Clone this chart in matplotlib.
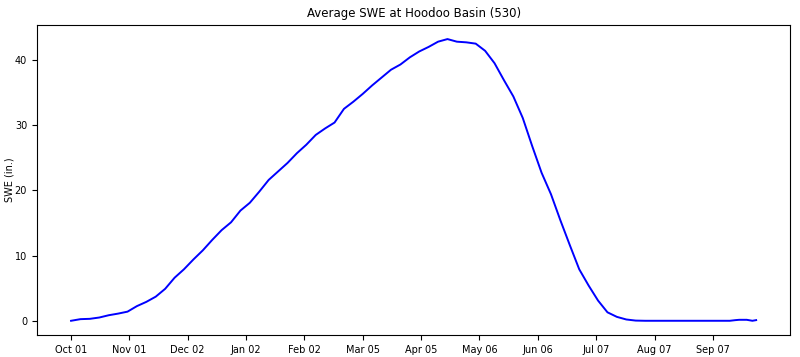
#!/usr/bin/env python3

import matplotlib
matplotlib.use("Agg")
import matplotlib.pyplot as plt
import numpy as np

# day of water year (0 = Oct 01) and average SWE in inches
days = [0, 5, 10, 15, 20, 25, 30, 35, 40, 45, 50, 55, 60, 65, 70, 75, 80, 85,
        90, 95, 100, 105, 110, 115, 120, 125, 130, 135, 140, 145, 150, 155,
        160, 165, 170, 175, 180, 185, 190, 195, 200, 205, 210, 215, 220, 225,
        230, 235, 240, 245, 250, 255, 260, 265, 270, 275, 280, 285, 290, 295,
        300, 305, 310, 320, 330, 340, 350, 353, 355, 359, 362, 364]
swe = [0.0, 0.25, 0.3, 0.5, 0.85, 1.1, 1.4, 2.25, 2.9, 3.7, 4.9, 6.6, 7.9,
       9.4, 10.8, 12.4, 13.9, 15.1, 16.9, 18.1, 19.8, 21.6, 22.9, 24.2, 25.7,
       27.0, 28.5, 29.5, 30.4, 32.5, 33.6, 34.8, 36.1, 37.3, 38.5, 39.3, 40.4,
       41.3, 42.0, 42.8, 43.2, 42.8, 42.7, 42.5, 41.4, 39.5, 36.9, 34.4, 31.1,
       26.8, 22.7, 19.4, 15.4, 11.6, 7.9, 5.4, 3.1, 1.3, 0.6, 0.2, 0.03, 0.0,
       0.0, 0.0, 0.0, 0.0, 0.0, 0.1, 0.15, 0.15, 0.0, 0.1]

tick_days = [0, 31, 62, 93, 124, 155, 186, 217, 248, 279, 310, 341]
tick_labels = ["Oct 01", "Nov 01", "Dec 02", "Jan 02", "Feb 02", "Mar 05",
               "Apr 05", "May 06", "Jun 06", "Jul 07", "Aug 07", "Sep 07"]


def _main():
    fig, ax = plt.subplots(figsize=(8, 3.57), dpi=100)
    fig.subplots_adjust(left=0.046, right=0.988, top=0.93, bottom=0.062)
    ax.plot(days, swe, color="b", linewidth=1.4)
    ax.set_xticks(tick_days)
    ax.set_xticklabels(tick_labels)
    ax.set_xlim(-0.05 * 364, 364 * 1.05)
    ax.set_yticks([0, 10, 20, 30, 40])
    ax.tick_params(labelsize=7, length=3.5)
    ax.set_ylabel("SWE (in.)", fontsize=7)
    ax.yaxis.set_label_coords(-0.03, 0.5)
    ax.set_title("Average SWE at Hoodoo Basin (530)", fontsize=8.5)
    plt.savefig("out.png")


if __name__ == '__main__':
    _main()
